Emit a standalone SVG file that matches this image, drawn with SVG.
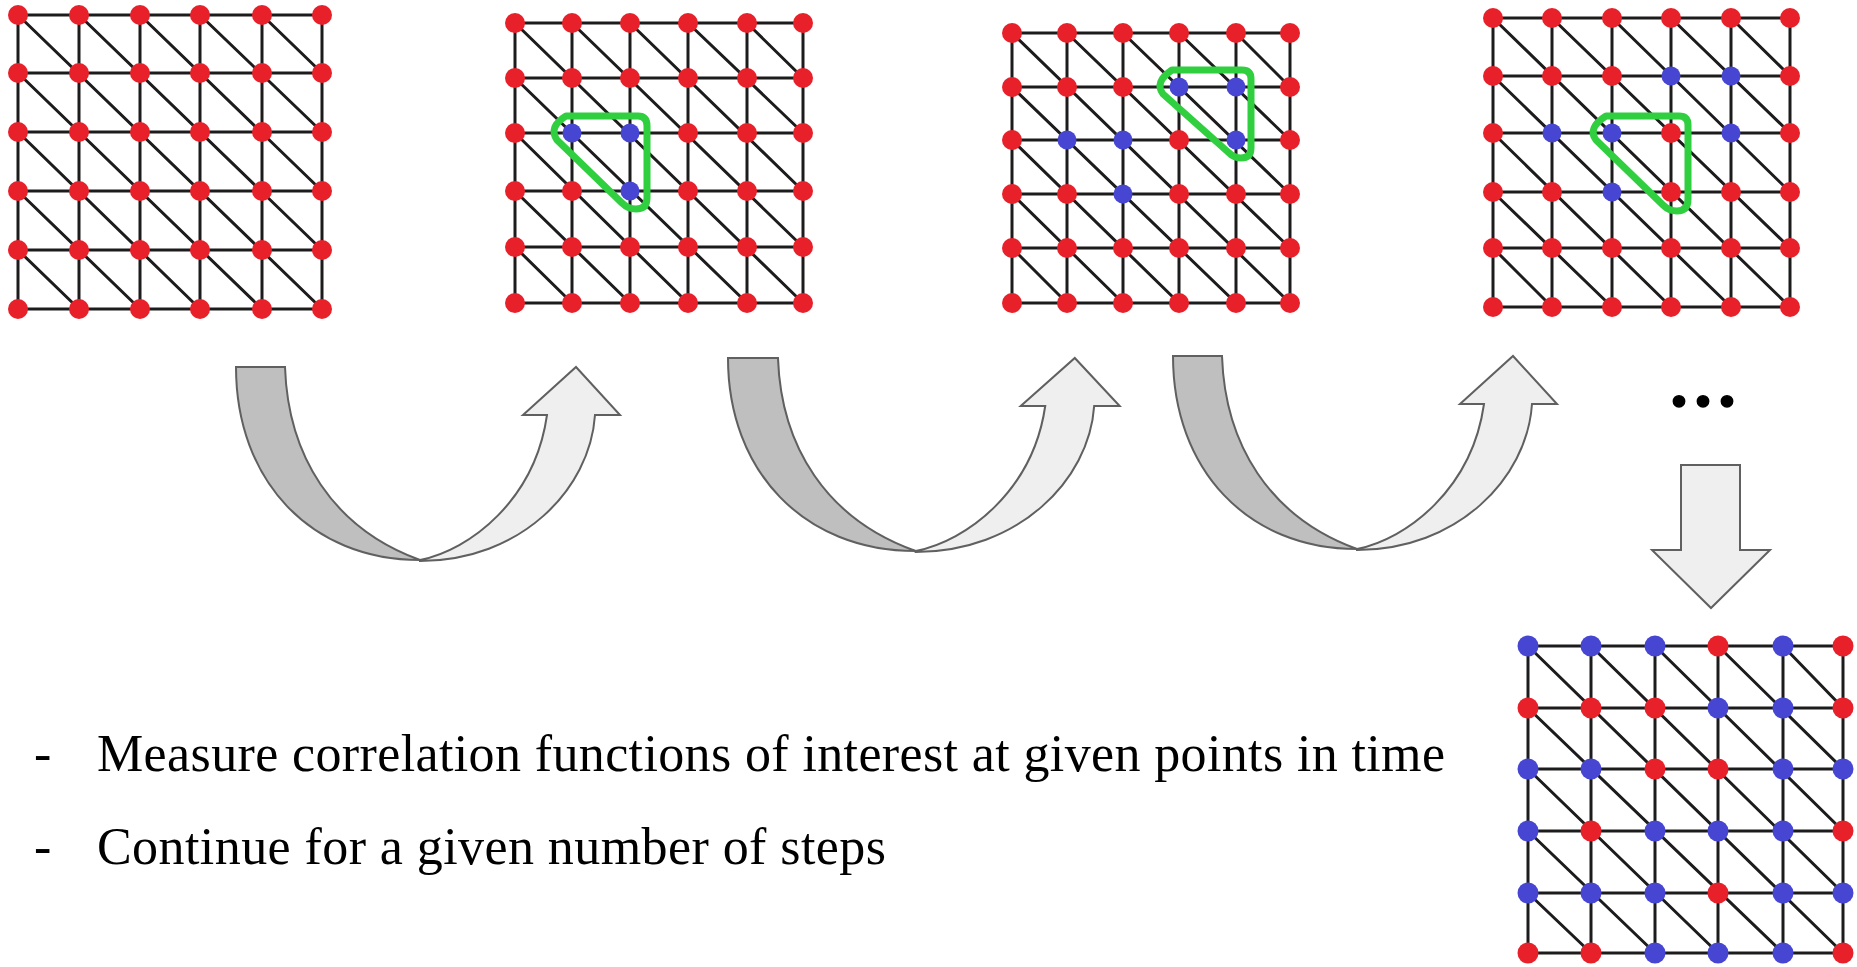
<svg xmlns="http://www.w3.org/2000/svg" xmlns:xlink="http://www.w3.org/1999/xlink" width="1857" height="967" viewBox="0 0 1857 967">
<style>
.ln{stroke:#1c1c1c;stroke-width:3;fill:none}
.r{fill:#e8202a}
.b{fill:#4646d2}
.sel{fill:none;stroke:#2fcf3f;stroke-width:7;stroke-linejoin:round}
.dk{fill:#bfbfbf;stroke:#606060;stroke-width:2;stroke-linejoin:miter}
.lt{fill:#efefef;stroke:#606060;stroke-width:2;stroke-linejoin:miter}
.t{font-family:"Liberation Serif","Times New Roman",serif;font-size:52px;fill:#000}
.dots{font-family:"Liberation Serif","Times New Roman",serif;font-size:96px;fill:#000;stroke:#000;stroke-width:1.5}
</style>
<defs>
<g id="ca">
<path class="dk" d="M236,367 L285,367 C288,455 332,528 420,560 C310,560 236,480 236,367 Z"/>
<path class="lt" d="M420,560 C470,550 535,500 547,415 L523,415 L576,367 L620,415 L595,415 C590,490 520,561 420,561 Z"/>
</g>
</defs>
<rect width="1857" height="967" fill="#fff"/>

<g id="connectors">
<use xlink:href="#ca" href="#ca"/>
<use xlink:href="#ca" href="#ca" transform="translate(728,358) scale(1.02,1) translate(-236,-367)"/>
<use xlink:href="#ca" href="#ca" transform="translate(937,-11)"/>
<path class="lt" d="M1681,465 L1740,465 L1740,550 L1770,550 L1711,608 L1652,550 L1681,550 Z"/>
</g>

<g id="grid1">
<path class="ln" d="M18,15H322 M18,73H322 M18,132H322 M18,191H322 M18,250H322 M18,309H322 M18,15V309 M79,15V309 M140,15V309 M200,15V309 M262,15V309 M322,15V309 M18,15L322,309 M79,15L322,250 M140,15L322,191 M200,15L322,132 M262,15L322,73 M18,73L262,309 M18,132L200,309 M18,191L140,309 M18,250L79,309"/>
<g class="r">
<circle cx="18" cy="15" r="10"/><circle cx="79" cy="15" r="10"/><circle cx="140" cy="15" r="10"/><circle cx="200" cy="15" r="10"/><circle cx="262" cy="15" r="10"/><circle cx="322" cy="15" r="10"/>
<circle cx="18" cy="73" r="10"/><circle cx="79" cy="73" r="10"/><circle cx="140" cy="73" r="10"/><circle cx="200" cy="73" r="10"/><circle cx="262" cy="73" r="10"/><circle cx="322" cy="73" r="10"/>
<circle cx="18" cy="132" r="10"/><circle cx="79" cy="132" r="10"/><circle cx="140" cy="132" r="10"/><circle cx="200" cy="132" r="10"/><circle cx="262" cy="132" r="10"/><circle cx="322" cy="132" r="10"/>
<circle cx="18" cy="191" r="10"/><circle cx="79" cy="191" r="10"/><circle cx="140" cy="191" r="10"/><circle cx="200" cy="191" r="10"/><circle cx="262" cy="191" r="10"/><circle cx="322" cy="191" r="10"/>
<circle cx="18" cy="250" r="10"/><circle cx="79" cy="250" r="10"/><circle cx="140" cy="250" r="10"/><circle cx="200" cy="250" r="10"/><circle cx="262" cy="250" r="10"/><circle cx="322" cy="250" r="10"/>
<circle cx="18" cy="309" r="10"/><circle cx="79" cy="309" r="10"/><circle cx="140" cy="309" r="10"/><circle cx="200" cy="309" r="10"/><circle cx="262" cy="309" r="10"/><circle cx="322" cy="309" r="10"/>
</g>
</g>

<g id="grid2">
<path class="ln" d="M515,23H803 M515,78H803 M515,133H803 M515,191H803 M515,247H803 M515,303H803 M515,23V303 M572,23V303 M630,23V303 M688,23V303 M747,23V303 M803,23V303 M515,23L803,303 M572,23L803,247 M630,23L803,191 M688,23L803,133 M747,23L803,78 M515,78L747,303 M515,133L688,303 M515,191L630,303 M515,247L572,303"/>
<g class="r">
<circle cx="515" cy="23" r="10"/><circle cx="572" cy="23" r="10"/><circle cx="630" cy="23" r="10"/><circle cx="688" cy="23" r="10"/><circle cx="747" cy="23" r="10"/><circle cx="803" cy="23" r="10"/>
<circle cx="515" cy="78" r="10"/><circle cx="572" cy="78" r="10"/><circle cx="630" cy="78" r="10"/><circle cx="688" cy="78" r="10"/><circle cx="747" cy="78" r="10"/><circle cx="803" cy="78" r="10"/>
<circle cx="515" cy="133" r="10"/><circle cx="688" cy="133" r="10"/><circle cx="747" cy="133" r="10"/><circle cx="803" cy="133" r="10"/>
<circle cx="515" cy="191" r="10"/><circle cx="572" cy="191" r="10"/><circle cx="688" cy="191" r="10"/><circle cx="747" cy="191" r="10"/><circle cx="803" cy="191" r="10"/>
<circle cx="515" cy="247" r="10"/><circle cx="572" cy="247" r="10"/><circle cx="630" cy="247" r="10"/><circle cx="688" cy="247" r="10"/><circle cx="747" cy="247" r="10"/><circle cx="803" cy="247" r="10"/>
<circle cx="515" cy="303" r="10"/><circle cx="572" cy="303" r="10"/><circle cx="630" cy="303" r="10"/><circle cx="688" cy="303" r="10"/><circle cx="747" cy="303" r="10"/><circle cx="803" cy="303" r="10"/>
</g>
<g class="b">
<circle cx="572" cy="133" r="9.5"/><circle cx="630" cy="133" r="9.5"/><circle cx="630" cy="191" r="9.5"/>
</g>
<path class="sel" d="M566,116 L638,116 Q647,116 647,126 L647,198 Q647,209 636,209 Q628,209 622,203 L557,140 Q548,127 566,116 Z"/>
</g>

<g id="grid3">
<path class="ln" d="M1012,33H1290 M1012,87H1290 M1012,140H1290 M1012,194H1290 M1012,248H1290 M1012,303H1290 M1012,33V303 M1067,33V303 M1123,33V303 M1179,33V303 M1236,33V303 M1290,33V303 M1012,33L1290,303 M1067,33L1290,248 M1123,33L1290,194 M1179,33L1290,140 M1236,33L1290,87 M1012,87L1236,303 M1012,140L1179,303 M1012,194L1123,303 M1012,248L1067,303"/>
<g class="r">
<circle cx="1012" cy="33" r="10"/><circle cx="1067" cy="33" r="10"/><circle cx="1123" cy="33" r="10"/><circle cx="1179" cy="33" r="10"/><circle cx="1236" cy="33" r="10"/><circle cx="1290" cy="33" r="10"/>
<circle cx="1012" cy="87" r="10"/><circle cx="1067" cy="87" r="10"/><circle cx="1123" cy="87" r="10"/><circle cx="1290" cy="87" r="10"/>
<circle cx="1012" cy="140" r="10"/><circle cx="1179" cy="140" r="10"/><circle cx="1290" cy="140" r="10"/>
<circle cx="1012" cy="194" r="10"/><circle cx="1067" cy="194" r="10"/><circle cx="1179" cy="194" r="10"/><circle cx="1236" cy="194" r="10"/><circle cx="1290" cy="194" r="10"/>
<circle cx="1012" cy="248" r="10"/><circle cx="1067" cy="248" r="10"/><circle cx="1123" cy="248" r="10"/><circle cx="1179" cy="248" r="10"/><circle cx="1236" cy="248" r="10"/><circle cx="1290" cy="248" r="10"/>
<circle cx="1012" cy="303" r="10"/><circle cx="1067" cy="303" r="10"/><circle cx="1123" cy="303" r="10"/><circle cx="1179" cy="303" r="10"/><circle cx="1236" cy="303" r="10"/><circle cx="1290" cy="303" r="10"/>
</g>
<g class="b">
<circle cx="1179" cy="87" r="9.5"/><circle cx="1236" cy="87" r="9.5"/><circle cx="1236" cy="140" r="9.5"/><circle cx="1067" cy="140" r="9.5"/><circle cx="1123" cy="140" r="9.5"/><circle cx="1123" cy="194" r="9.5"/>
</g>
<path class="sel" d="M1172,70 L1242,70 Q1251,70 1251,79 L1251,148 Q1251,158 1241,158 Q1234,158 1228,152 L1163,94 Q1154,82 1172,70 Z"/>
</g>

<g id="grid4">
<path class="ln" d="M1493,18H1790 M1493,76H1790 M1493,133H1790 M1493,192H1790 M1493,248H1790 M1493,307H1790 M1493,18V307 M1552,18V307 M1612,18V307 M1671,18V307 M1731,18V307 M1790,18V307 M1493,18L1790,307 M1552,18L1790,248 M1612,18L1790,192 M1671,18L1790,133 M1731,18L1790,76 M1493,76L1731,307 M1493,133L1671,307 M1493,192L1612,307 M1493,248L1552,307"/>
<g class="r">
<circle cx="1493" cy="18" r="10"/><circle cx="1552" cy="18" r="10"/><circle cx="1612" cy="18" r="10"/><circle cx="1671" cy="18" r="10"/><circle cx="1731" cy="18" r="10"/><circle cx="1790" cy="18" r="10"/>
<circle cx="1493" cy="76" r="10"/><circle cx="1552" cy="76" r="10"/><circle cx="1612" cy="76" r="10"/><circle cx="1790" cy="76" r="10"/>
<circle cx="1493" cy="133" r="10"/><circle cx="1671" cy="133" r="10"/><circle cx="1790" cy="133" r="10"/>
<circle cx="1493" cy="192" r="10"/><circle cx="1552" cy="192" r="10"/><circle cx="1671" cy="192" r="10"/><circle cx="1731" cy="192" r="10"/><circle cx="1790" cy="192" r="10"/>
<circle cx="1493" cy="248" r="10"/><circle cx="1552" cy="248" r="10"/><circle cx="1612" cy="248" r="10"/><circle cx="1671" cy="248" r="10"/><circle cx="1731" cy="248" r="10"/><circle cx="1790" cy="248" r="10"/>
<circle cx="1493" cy="307" r="10"/><circle cx="1552" cy="307" r="10"/><circle cx="1612" cy="307" r="10"/><circle cx="1671" cy="307" r="10"/><circle cx="1731" cy="307" r="10"/><circle cx="1790" cy="307" r="10"/>
</g>
<g class="b">
<circle cx="1671" cy="76" r="9.5"/><circle cx="1731" cy="76" r="9.5"/><circle cx="1552" cy="133" r="9.5"/><circle cx="1612" cy="133" r="9.5"/><circle cx="1731" cy="133" r="9.5"/><circle cx="1612" cy="192" r="9.5"/>
</g>
<path class="sel" d="M1606,116 L1679,116 Q1688,116 1688,125 L1688,199 Q1688,211 1677,211 Q1669,211 1663,205 L1596,140 Q1587,128 1606,116 Z"/>
</g>

<g id="grid5">
<path class="ln" d="M1528,646H1843 M1528,708H1843 M1528,769H1843 M1528,831H1843 M1528,893H1843 M1528,953H1843 M1528,646V953 M1591,646V953 M1655,646V953 M1718,646V953 M1783,646V953 M1843,646V953 M1528,646L1843,953 M1591,646L1843,893 M1655,646L1843,831 M1718,646L1843,769 M1783,646L1843,708 M1528,708L1783,953 M1528,769L1718,953 M1528,831L1655,953 M1528,893L1591,953"/>
<g class="b">
<circle cx="1528" cy="646" r="10.5"/><circle cx="1591" cy="646" r="10.5"/><circle cx="1655" cy="646" r="10.5"/><circle cx="1783" cy="646" r="10.5"/>
<circle cx="1718" cy="708" r="10.5"/><circle cx="1783" cy="708" r="10.5"/>
<circle cx="1528" cy="769" r="10.5"/><circle cx="1591" cy="769" r="10.5"/><circle cx="1783" cy="769" r="10.5"/><circle cx="1843" cy="769" r="10.5"/>
<circle cx="1528" cy="831" r="10.5"/><circle cx="1655" cy="831" r="10.5"/><circle cx="1718" cy="831" r="10.5"/><circle cx="1783" cy="831" r="10.5"/>
<circle cx="1528" cy="893" r="10.5"/><circle cx="1591" cy="893" r="10.5"/><circle cx="1655" cy="893" r="10.5"/><circle cx="1783" cy="893" r="10.5"/><circle cx="1843" cy="893" r="10.5"/>
<circle cx="1655" cy="953" r="10.5"/><circle cx="1718" cy="953" r="10.5"/><circle cx="1783" cy="953" r="10.5"/>
</g>
<g class="r">
<circle cx="1718" cy="646" r="10.5"/><circle cx="1843" cy="646" r="10.5"/>
<circle cx="1528" cy="708" r="10.5"/><circle cx="1591" cy="708" r="10.5"/><circle cx="1655" cy="708" r="10.5"/><circle cx="1843" cy="708" r="10.5"/>
<circle cx="1655" cy="769" r="10.5"/><circle cx="1718" cy="769" r="10.5"/>
<circle cx="1591" cy="831" r="10.5"/><circle cx="1843" cy="831" r="10.5"/>
<circle cx="1718" cy="893" r="10.5"/>
<circle cx="1528" cy="953" r="10.5"/><circle cx="1591" cy="953" r="10.5"/><circle cx="1843" cy="953" r="10.5"/>
</g>
</g>

<g id="ellipsis">
<text class="dots" x="1703" y="406" text-anchor="middle">...</text>
</g>

<g id="bullets">
<text class="t" x="34" y="771">-</text>
<text class="t" x="97" y="771" textLength="1348" lengthAdjust="spacing">Measure correlation functions of interest at given points in time</text>
<text class="t" x="34" y="864">-</text>
<text class="t" x="97" y="864" textLength="789" lengthAdjust="spacing">Continue for a given number of steps</text>
</g>
</svg>
